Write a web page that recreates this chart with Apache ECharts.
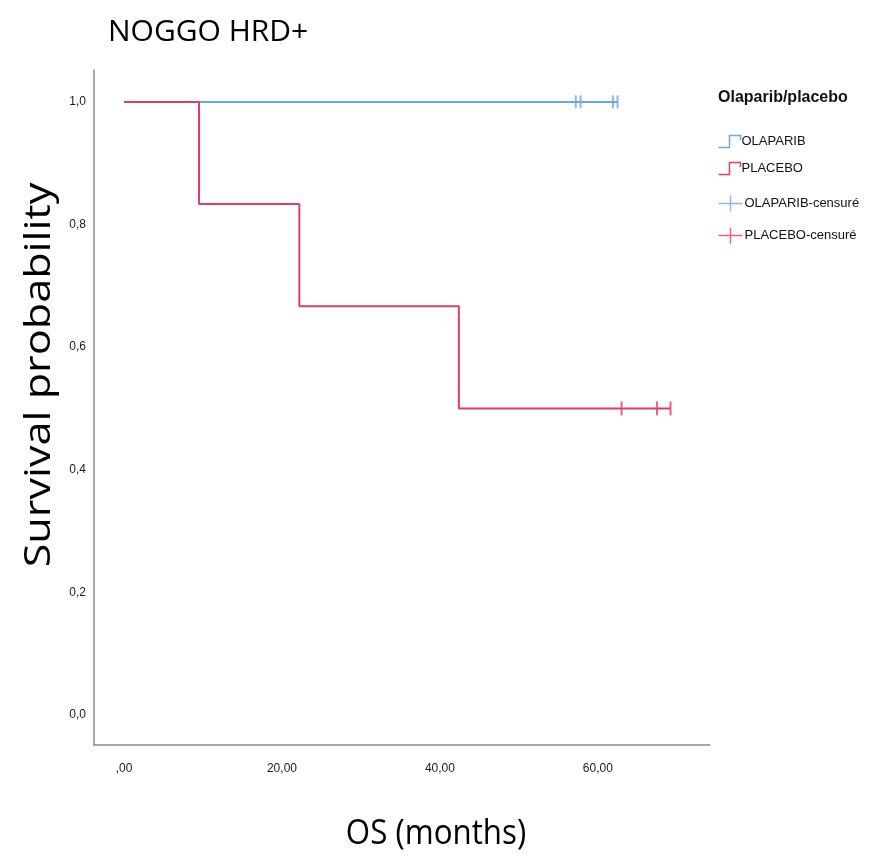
<!DOCTYPE html>
<html>
<head>
<meta charset="utf-8">
<script src="https://cdn.jsdelivr.net/npm/echarts@6/dist/echarts.min.js"></script>
<style>
  html, body { margin: 0; padding: 0; background: #fff; }
  #chart { width: 871px; height: 855px; }
</style>
</head>
<body>
<div id="chart"></div>
<script>
// Kaplan–Meier overall survival, NOGGO HRD+ subgroup
const olaparibSteps = [[0, 1.0], [62.5, 1.0]];
const placeboSteps = [[0, 1.0], [9.5, 0.8333], [22.2, 0.6667], [42.4, 0.5], [69.2, 0.5]];
const olaparibCensored = [[57.2, 1.0], [57.8, 1.0], [61.9, 1.0], [62.5, 1.0]];
const placeboCensored = [[63.0, 0.5], [67.5, 0.5], [69.2, 0.5]];

const xTicks = [0, 20, 40, 60];
const xTickLabels = [',00', '20,00', '40,00', '60,00'];
const yTicks = [0, 0.2, 0.4, 0.6, 0.8, 1.0];
const yTickLabels = ['0,0', '0,2', '0,4', '0,6', '0,8', '1,0'];

const seriesNames = ['OLAPARIB', 'PLACEBO', 'OLAPARIB-censuré', 'PLACEBO-censuré'];

const BLUE = '#6fa4e8';
const RED = '#df3d66';
const sans = '"Liberation Sans", Arial, sans-serif';
const titleFont = '"Open Sans", "Noto Sans", sans-serif';

const stepIcon = 'path://M0,12 L10,12 L10,1 L20,1 L20,5';
const plusIcon = 'path://M0,8 L24,8 M12,0 L12,16';

function legendFor(i, top, icon, color, w, h) {
  return {
    top: top, left: 711,
    orient: 'vertical',
    selectedMode: false,
    itemWidth: w, itemHeight: h, itemGap: 0,
    textStyle: { fontFamily: sans, fontSize: 13, color: '#111', padding: [0, 0, 0, -4] },
    data: [{
      name: seriesNames[i],
      icon: icon,
      itemStyle: { color: 'none', borderColor: color, borderWidth: 1.5 }
    }]
  };
}

const chart = echarts.init(document.getElementById('chart'), null, { renderer: 'canvas' });

const axisLine = { show: true, onZero: false, lineStyle: { color: '#8c8c8c', width: 1.5 } };

chart.setOption({
  animation: false,
  backgroundColor: '#fff',
  title: {
    text: 'NOGGO HRD+',
    left: 103, top: 12,
    textStyle: { fontFamily: titleFont, fontSize: 30, fontWeight: 'normal', color: '#000' }
  },
  grid: { left: 94, right: 161, top: 70, bottom: 110 },
  xAxis: {
    type: 'value',
    min: -3.8, max: 74.2,
    axisLine: axisLine,
    axisTick: { show: false },
    splitLine: { show: false },
    axisLabel: {
      customValues: xTicks,
      margin: 18,
      fontFamily: sans, fontSize: 12, color: '#1a1a1a',
      formatter: v => xTickLabels[xTicks.indexOf(v)] ?? ''
    }
  },
  yAxis: {
    type: 'value',
    min: -0.049, max: 1.052,
    axisLine: axisLine,
    axisTick: { show: false },
    splitLine: { show: false },
    axisLabel: {
      customValues: yTicks,
      margin: 8,
      fontFamily: sans, fontSize: 12, color: '#1a1a1a',
      formatter: v => {
        const k = yTicks.findIndex(t => Math.abs(t - v) < 1e-6);
        return k >= 0 ? yTickLabels[k] : '';
      }
    }
  },
  legend: [
    legendFor(0, 128, stepIcon, BLUE, 22, 14),
    legendFor(1, 155, stepIcon, RED, 22, 14),
    legendFor(2, 188, plusIcon, BLUE, 26, 16),
    legendFor(3, 220, plusIcon, RED, 26, 16)
  ],
  graphic: [
    {
      type: 'text', left: 718, top: 90,
      style: { text: 'Olaparib/placebo', font: 'bold 16px ' + sans, fill: '#111' }
    },
    {
      type: 'text', x: 40, y: 375, rotation: Math.PI / 2, scaleX: 1.2,
      style: {
        text: 'Survival probability', align: 'center', verticalAlign: 'middle',
        font: '36px ' + titleFont, fill: '#000'
      }
    },
    {
      type: 'text', x: 436, y: 834, scaleX: 0.92,
      style: {
        text: 'OS (months)', align: 'center', verticalAlign: 'middle',
        font: '34px ' + titleFont, fill: '#000'
      }
    }
  ],
  series: [
    {
      name: seriesNames[0], type: 'line', step: 'end',
      data: olaparibSteps, showSymbol: false, symbol: 'none',
      lineStyle: { color: BLUE, width: 2 }, itemStyle: { color: BLUE }, z: 2
    },
    {
      name: seriesNames[1], type: 'line', step: 'end',
      data: placeboSteps, showSymbol: false, symbol: 'none',
      lineStyle: { color: RED, width: 2 }, itemStyle: { color: RED }, z: 3
    },
    {
      name: seriesNames[2], type: 'scatter',
      data: olaparibCensored, symbol: 'rect', symbolSize: [2, 13],
      itemStyle: { color: BLUE }, z: 4
    },
    {
      name: seriesNames[3], type: 'scatter',
      data: placeboCensored, symbol: 'rect', symbolSize: [2, 14],
      itemStyle: { color: RED }, z: 4
    }
  ]
});
</script>
</body>
</html>
